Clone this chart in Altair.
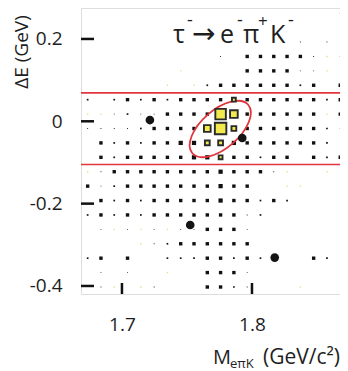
import altair as alt
import pandas as pd

# ---------------- values ----------------
X_DOMAIN = [1.6685, 1.8677]         # M_epiK (GeV/c^2), visible part
Y_DOMAIN = [-0.4195, 0.2752]        # Delta E (GeV)
X_TICKS = [1.7, 1.8]
Y_TICKS = [0.2, 0.0, -0.2, -0.4]
N_BINS = 20
X_EDGE0 = 1.6685
X_BINW = (1.873 - 1.6685) / N_BINS
Y_EDGE0 = 0.28
Y_BINH = 0.035

# background-MC box histogram, one string per DeltaE row (top -> bottom),
# one char per mass column: t=1, d=2, m=4, L=5 (box size), f=faint, .=empty
BKG_ROWS = [
    "...................t",
    "....................",
    "................t.t.",
    "..........t.mmmmmtft",
    ".......f....mmmmttf.",
    "......f.fdmmmmmmdm.m",
    "d.dmdmdmmmm.mmmmmmdm",
    "fftdttmmmm..mmmmmmfm",
    "ttttdmmmm...mmmmmmdt",
    ".mdmdmmLL..Lmmmmmmd.",
    ".mdmmmmmLL.mmdmm.mdm",
    "ftmmmmmmmmLmmmtf..f.",
    "mtdmmmmmmmLmm..ff...",
    ".mdmdmmmmmLmmdmd....",
    "dmdmdmmmmmmmtd......",
    ".tftftfttmmmt.......",
    "....ftdmmmmmm.......",
    "dm.m..dddmmdmd...md.",
    ".t.t..f..mmmt.......",
    ".tf.ft...mmdt...f...",
]
BKG_LEVEL = {"t": 1, "d": 2, "m": 4, "L": 5}

# signal-MC boxes (column, row, content)
SIG_COL = [10, 10, 11, 9, 11, 9, 10, 10, 11]
SIG_ROW = [7, 8, 7, 8, 8, 9, 9, 10, 6]
SIG_N = [11, 12, 8, 7, 5, 5, 5, 4, 4]

# data events
DATA_M = [1.7215, 1.7925, 1.7525, 1.8175]
DATA_DE = [0.003, -0.0406, -0.252, -0.331]

# signal-box cut lines and signal ellipse
CUT_DE = [0.069, -0.105]
ELL_M, ELL_DE = 1.7756, -0.0187
ELL_A, ELL_B, ELL_TILT = 37.0, 19.0, 41.0   # semi-axes (px) and tilt (deg)

# ---------------- tables ----------------
bkg, faint = [], []
for r, row in enumerate(BKG_ROWS):
    for c, ch in enumerate(row):
        m = X_EDGE0 + (c + 0.5) * X_BINW
        de = Y_EDGE0 - (r + 0.5) * Y_BINH
        if ch in BKG_LEVEL:
            bkg.append({"m": m, "de": de, "n": BKG_LEVEL[ch]})
        elif ch == "f":
            faint.append({"m": m, "de": de})
df_bkg = pd.DataFrame(bkg)
df_faint = pd.DataFrame(faint)
df_sig = pd.DataFrame({
    "m": [X_EDGE0 + (c + 0.5) * X_BINW for c in SIG_COL],
    "de": [Y_EDGE0 - (r + 0.5) * Y_BINH for r in SIG_ROW],
    "n": SIG_N,
})
df_data = pd.DataFrame({"m": DATA_M, "de": DATA_DE})
df_cut = pd.DataFrame({"de": CUT_DE})
df_xt = pd.DataFrame({"m": X_TICKS})
df_yt = pd.DataFrame({"de": Y_TICKS})
df_ell = pd.DataFrame({"m": [ELL_M], "de": [ELL_DE]})

W, H = 259, 286
FONT = "Open Sans"
INK = "#1e1e1e"

XS = alt.Scale(domain=X_DOMAIN, nice=False, zero=False)
YS = alt.Scale(domain=Y_DOMAIN, nice=False, zero=False)
AX_X = alt.Axis(values=X_TICKS, format=".1f", title=None, domain=False,
                ticks=False, tickSize=0, grid=False, labelPadding=21,
                labelFontSize=19, labelFont=FONT, labelColor=INK)
AX_Y = alt.Axis(values=Y_TICKS, title=None, domain=False, ticks=False,
                tickSize=0, grid=False, labelPadding=19, labelFontSize=19,
                labelFont=FONT, labelColor=INK,
                labelExpr="datum.value == 0 ? '0' : (datum.value < 0 ? '-' + format(-datum.value, '.1f') : format(datum.value, '.1f'))")


def X(field="m:Q"):
    return alt.X(field, scale=XS, axis=AX_X)


def Y(field="de:Q"):
    return alt.Y(field, scale=YS, axis=AX_Y)


bkg_layer = alt.Chart(df_bkg).mark_square(color="#111111", opacity=1).encode(
    x=X(), y=Y(),
    size=alt.Size("n:Q", scale=alt.Scale(type="pow", exponent=2, domain=[0, 5], range=[0, 18]), legend=None),
)

faint_layer = alt.Chart(df_faint).mark_square(color="#e4df9a", size=2, opacity=1).encode(
    x=X(), y=Y())

sig_layer = alt.Chart(df_sig).mark_square(
    fill="#f1e94e", stroke="#2a2a2a", strokeWidth=1.9, opacity=1, fillOpacity=1
).encode(
    x=X(), y=Y(),
    size=alt.Size("n:Q", scale=alt.Scale(type="pow", exponent=2, domain=[0, 12], range=[0, 132]), legend=None),
)

data_layer = alt.Chart(df_data).mark_circle(color="#141414", size=75, opacity=1).encode(
    x=X(), y=Y())

cut_layer = alt.Chart(df_cut).mark_rule(color="#e2343c", strokeWidth=1.6).encode(
    y=Y(), x=alt.value(0), x2=alt.value(W))

# ellipse drawn as a custom symbol
k = 0.5523
r = ELL_B / ELL_A
ell_path = (
    f"M 1 0 C 1 {k*r:.4f} {k:.4f} {r:.4f} 0 {r:.4f} "
    f"C {-k:.4f} {r:.4f} -1 {k*r:.4f} -1 0 "
    f"C -1 {-k*r:.4f} {-k:.4f} {-r:.4f} 0 {-r:.4f} "
    f"C {k:.4f} {-r:.4f} 1 {-k*r:.4f} 1 0 Z"
)
ell_layer = alt.Chart(df_ell).mark_point(
    shape=ell_path, filled=False, stroke="#e2343c", strokeWidth=1.8,
    size=(2 * ELL_A) ** 2, angle=360 - ELL_TILT, opacity=1
).encode(x=X(), y=Y())

xtick_layer = alt.Chart(df_xt).mark_rule(color="#111111", strokeWidth=2.5).encode(
    x=X(), y=alt.value(H), y2=alt.value(H - 11))
ytick_layer = alt.Chart(df_yt).mark_rule(color="#111111", strokeWidth=2.5).encode(
    y=Y(), x=alt.value(0), x2=alt.value(13))


def txt(s, x, y, size, align="left", baseline="alphabetic", angle=0, font=FONT):
    return alt.Chart(pd.DataFrame({"_": [0]})).mark_text(
        text=s, align=align, baseline=baseline, fontSize=size, font=font,
        color=INK, angle=angle
    ).encode(x=alt.value(x), y=alt.value(y))


texts = [
    # in-plot title: tau- -> e- pi+ K-
    txt("τ", 92, 35, 25),
    txt("-", 106, 13, 18, baseline="middle"),
    txt("→", 111, 35, 28, font="DejaVu Sans"),
    txt("e", 139, 35, 25),
    txt("-", 156, 13, 18, baseline="middle"),
    txt("π", 162, 35, 25),
    txt("+", 177, 14, 17, baseline="middle"),
    txt("K", 189, 35, 25),
    txt("-", 207, 13, 18, baseline="middle"),
    # axis titles
    txt("ΔE (GeV)", -59, 44, 19, align="center", baseline="middle", angle=270),
    txt("M", 132, 356, 20),
    txt("eπK", 149, 360, 13),
    txt("(GeV/c²)", 259, 356, 21, align="right"),
]

chart = alt.layer(
    bkg_layer, faint_layer, cut_layer, ell_layer, sig_layer, data_layer,
    xtick_layer, ytick_layer, *texts
).resolve_scale(size="independent").properties(
    width=W, height=H,
    autosize=alt.AutoSizeParams(type="none"),
    padding={"left": 73, "top": 0, "right": 0, "bottom": 82},
).configure_view(stroke="#9a9a9a", strokeWidth=1.5).configure(background="white")

chart.save("out.html", embed_options={"renderer": "svg", "actions": False})
